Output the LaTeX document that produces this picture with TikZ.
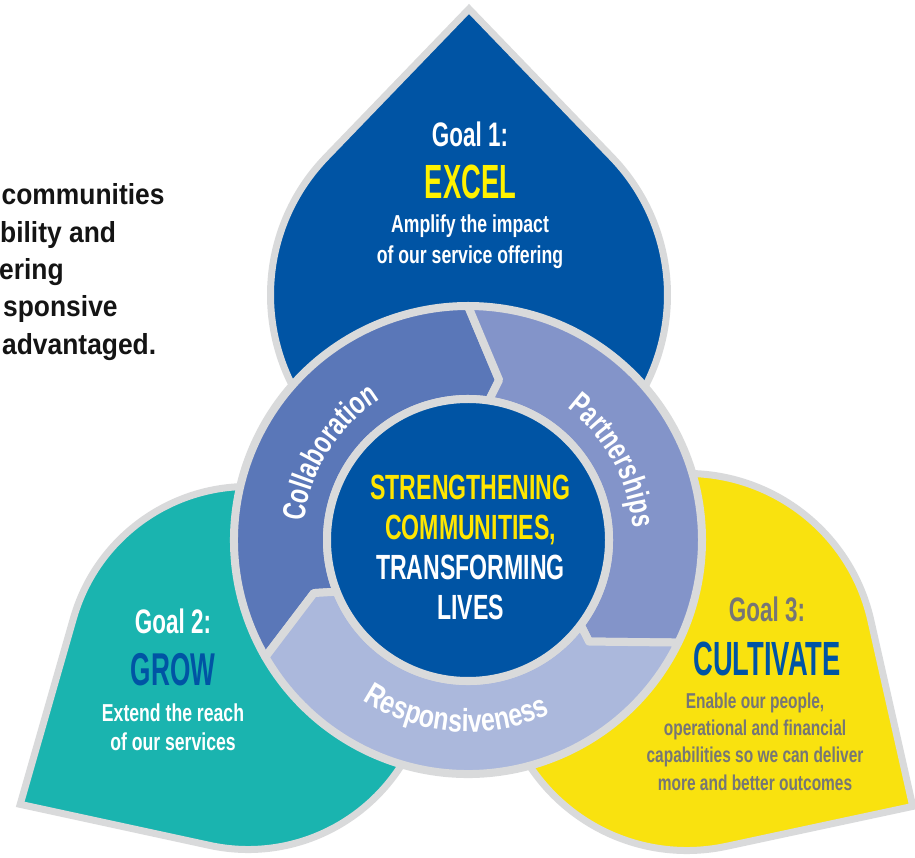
\documentclass[tikz,border=0pt]{standalone}
\usepackage{fontspec}
\usetikzlibrary{decorations.text}
\setmainfont{Liberation Sans}
% condensed cuts of one sans family
\newfontfamily\headfont[FakeStretch=0.57]{Liberation Sans}
\newfontfamily\midfont[FakeStretch=0.66]{Liberation Sans}
\newfontfamily\bodyfont[FakeStretch=0.72]{Liberation Sans}
\newfontfamily\widefont[FakeStretch=0.78]{Liberation Sans}
\newfontfamily\leadfont[FakeStretch=0.91]{Liberation Sans}

\definecolor{deepblue}{HTML}{0054A4}
\definecolor{collabblue}{HTML}{5A77B8}
\definecolor{partnerblue}{HTML}{8394C9}
\definecolor{respblue}{HTML}{ABB8DC}
\definecolor{rimgray}{HTML}{D9DADB}
\definecolor{tealgreen}{HTML}{1AB4AF}
\definecolor{sunyellow}{HTML}{F9E20F}
\definecolor{lemon}{HTML}{FFF200}
\definecolor{goldtext}{HTML}{FFE600}
\definecolor{slatetext}{HTML}{767676}
\definecolor{inkblack}{HTML}{141414}

\tikzset{
  petal/.style={draw=rimgray, line width=7pt, line join=miter},
  segment/.style={draw=rimgray, line width=8pt, line join=round},
  lbl/.style={inner sep=0pt, anchor=base},
  leadtext/.style={inner sep=0pt, anchor=base west, text=inkblack,
    font=\leadfont\bfseries\fontsize{29}{29}\selectfont},
  goalhead/.style={lbl, font=\midfont\bfseries\fontsize{34}{34}\selectfont},
  goalname/.style={lbl, font=\headfont\bfseries\fontsize{48}{48}\selectfont},
  goalbody/.style={lbl, font=\bodyfont\bfseries\fontsize{24.5}{24.5}\selectfont},
  goalsmall/.style={lbl, font=\bodyfont\bfseries\fontsize{21.5}{21.5}\selectfont},
  corefont/.style={lbl, font=\midfont\bfseries\fontsize{35}{35}\selectfont},
}

\begin{document}
\begin{tikzpicture}[x=1pt, y=1pt]
\useasboundingbox (0,0) rectangle (915,857);

% lead-in statement, running off the left edge
\node[leadtext] (lead1) at (1.5,652) {communities};
\node[leadtext] (lead2) at (0,614.5) {bility and};
\node[leadtext] (lead3) at (-1,577) {ering};
\node[leadtext] (lead4) at (3,540) {sponsive};
\node[leadtext] (lead5) at (2,502) {advantaged.};

% three goal petals (tip plus round back)
\begin{scope}[shift={(469,562)}]
  \path[petal, fill=deepblue] (90:286) -- (136.05:198.5)
    arc[start angle=136.05, end angle=403.95, radius=198.5] -- cycle;
\end{scope}
\begin{scope}[shift={(248,189)}]
  \path[petal, fill=tealgreen] (210.9:265.5) -- (257.77:181.5)
    arc[start angle=257.77, end angle=524.03, radius=181.5] -- cycle;
\end{scope}
\begin{scope}[shift={(687,195)}]
  \path[petal, fill=sunyellow] (-32.6:268) -- (12.7:188.5)
    arc[start angle=12.7, end angle=282.1, radius=188.5] -- cycle;
\end{scope}

% goal 1
\node[goalhead, text=white] (g1head) at (470,710) {Goal 1:};
\node[goalname, text=lemon] (g1name) at (470.5,658.7) {EXCEL};
\node[goalbody, text=white] (g1a) at (470,624) {Amplify the impact};
\node[goalbody, text=white] (g1b) at (470,593.7) {of our service offering};

% goal 2
\node[goalhead, text=white] (g2head) at (173,223.7) {Goal 2:};
\node[goalname, text=deepblue, font=\headfont\bfseries\fontsize{46}{46}\selectfont] (g2name) at (173,172) {GROW};
\node[goalbody, text=white] (g2a) at (173,135.3) {Extend the reach};
\node[goalbody, text=white] (g2b) at (173,107) {of our services};

% goal 3
\node[goalhead, text=slatetext] (g3head) at (767,235.3) {Goal 3:};
\node[goalname, text=deepblue] (g3name) at (767,182) {CULTIVATE};
\node[goalsmall, text=slatetext] (g3a) at (755,148.7) {Enable our people,};
\node[goalsmall, text=slatetext] (g3b) at (755,122) {operational and financial};
\node[goalsmall, text=slatetext] (g3c) at (755,94.3) {capabilities so we can deliver};
\node[goalsmall, text=slatetext] (g3d) at (755,67) {more and better outcomes};

% ring of three chevron segments around the hub
\begin{scope}[shift={(468,317)}]
  \path[segment, fill=collabblue] (210:234)
    arc[start angle=210, end angle=90, radius=234] -- (79:163) -- (81.5:141)
    arc[start angle=81.5, end angle=201.5, radius=141] -- (199:163) -- cycle;
  \path[segment, fill=partnerblue] (90:234)
    arc[start angle=90, end angle=-26, radius=234] -- (-40:158) -- (-37:141)
    arc[start angle=-37, end angle=81.5, radius=141] -- (79:163) -- cycle;
  \path[segment, fill=respblue] (-26:234)
    arc[start angle=-26, end angle=-150, radius=234] -- (-161:163) -- (-158.5:141)
    arc[start angle=-158.5, end angle=-37, radius=141] -- (-40:158) -- cycle;

  % ring labels set along arcs
  \path[decorate, decoration={text along path, text align=center,
      text color=white,
      text={|\bodyfont\bfseries\fontsize{32}{32}\selectfont|Collaboration}}]
    (192.8:165) arc[start angle=192.8, end angle=102.8, radius=165];
  \path[decorate, decoration={text along path, text align=center,
      text color=white,
      text={|\bodyfont\bfseries\fontsize{32}{32}\selectfont|Partnerships}}]
    (73.7:165) arc[start angle=73.7, end angle=-16.3, radius=165];
  \path[decorate, decoration={text along path, text align=center,
      text color=white,
      text={|\widefont\bfseries\fontsize{32}{32}\selectfont|Responsiveness}}]
    (221:192) arc[start angle=221, end angle=311, radius=192];

  % hub
  \path[draw=rimgray, line width=8pt, fill=deepblue] (0,0) circle[radius=141];
\end{scope}

% hub statement
\node[corefont, text=goldtext] (core1) at (470.5,357) {STRENGTHENING};
\node[corefont, text=goldtext] (core2) at (470.5,317) {COMMUNITIES,};
\node[corefont, text=white] (core3) at (470.5,277) {TRANSFORMING};
\node[corefont, text=white] (core4) at (470.5,237) {LIVES};
\end{tikzpicture}
\end{document}
